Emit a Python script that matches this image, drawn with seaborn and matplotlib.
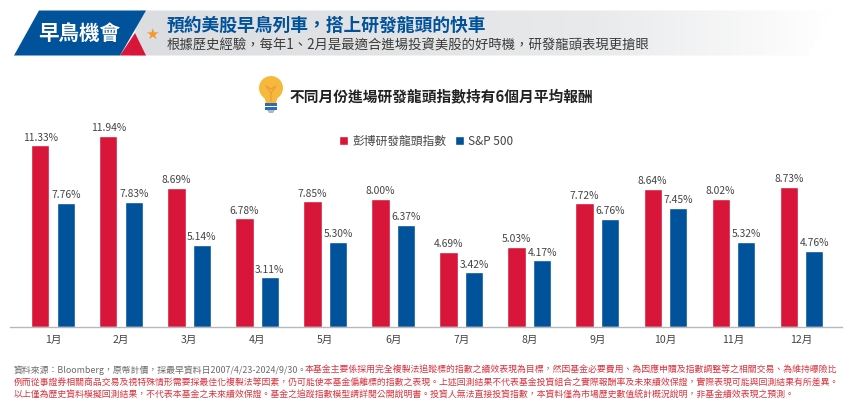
import pandas as pd
import numpy as np
import matplotlib
matplotlib.use("Agg")
import matplotlib.pyplot as plt
from matplotlib.patches import Polygon, Circle, Rectangle
import seaborn as sns

months = ["1月", "2月", "3月", "4月", "5月", "6月", "7月", "8月", "9月", "10月", "11月", "12月"]
dragon = [11.33, 11.94, 8.69, 6.78, 7.85, 8.00, 4.69, 5.03, 7.72, 8.64, 8.02, 8.73]
sp500 = [7.76, 7.83, 5.14, 3.11, 5.30, 6.37, 3.42, 4.17, 6.76, 7.45, 5.32, 4.76]
series_names = ["彭博研發龍頭指數", "S&P 500"]

W, H = 857, 412
RED = "#d7163a"
BLUE = "#00529b"

sns.set_style("white")
plt.rcParams["font.family"] = ["Noto Sans CJK TC", "DejaVu Sans"]

df = pd.DataFrame({
    "month": months * 2,
    "value": dragon + sp500,
    "series": [series_names[0]] * 12 + [series_names[1]] * 12,
})

fig = plt.figure(figsize=(W / 100, H / 100), dpi=100)

# overlay in pixel coords for the banner etc.
bg = fig.add_axes([0, 0, 1, 1], zorder=0)
bg.set_xlim(0, W)
bg.set_ylim(H, 0)
bg.axis("off")

# banner gradient
grad = np.linspace(0, 1, 256).reshape(1, -1)
cmap = matplotlib.colors.LinearSegmentedColormap.from_list(
    "band", ["#dcdde0", "#e2e3e5", "#e9eaec", "#ffffff"])
im = bg.imshow(grad, extent=(130, 832, 56, 10), cmap=cmap, aspect="auto", zorder=1)
clip = Polygon([(140, 10.5), (832, 10.5), (808, 55.5), (130, 55.5)], transform=bg.transData,
               facecolor="none", edgecolor="none")
bg.add_patch(clip)
im.set_clip_path(clip)
bg.set_xlim(0, W)
bg.set_ylim(H, 0)

bg.add_patch(Polygon([(39, 10.5), (146, 10.5), (120, 55.5), (14, 55.5)], color=BLUE, lw=0, zorder=2))
bg.add_patch(Polygon([(120, 55.5), (135, 33), (146, 55.5)], color=RED, lw=0, zorder=3))
bg.text(79.5, 33.5, "早鳥機會", color="white", fontsize=14.8, fontweight="bold",
        ha="center", va="center", zorder=4)
bg.text(152, 34, "★", color="#f39a2b", fontsize=11, ha="center", va="center",
        family=["DejaVu Sans"], zorder=4)
bg.text(167, 25.5, "預約美股早鳥列車，搭上研發龍頭的快車", color=BLUE, fontsize=12.8,
        fontweight="bold", va="center", zorder=4)
bg.text(167, 45.5, "根據歷史經驗，每年1、2月是最適合進場投資美股的好時機，研發龍頭表現更搶眼",
        color="#3a3a3a", fontsize=9.6, va="center", zorder=4)

# light bulb
bg.add_patch(Circle((271, 88), 12, color="#f6b93b", lw=0, zorder=2))
bg.add_patch(Polygon([(264, 96), (278, 96), (276, 103), (266, 103)], color="#f6b93b", lw=0, zorder=2))
bg.add_patch(Rectangle((265, 102.5), 12, 3, color="#2f6db0", lw=0, zorder=2))
bg.add_patch(Rectangle((265, 106.5), 12, 3, color="#2f6db0", lw=0, zorder=2))
bg.add_patch(Polygon([(267, 110), (275, 110), (273, 113), (269, 113)], color="#9dbcd8", lw=0, zorder=2))
bg.plot([271, 271, 266, 271, 276, 271], [101, 93, 86, 89, 86, 93], color="#ef9a3c", lw=0.8, zorder=3)

bg.text(290, 96, "不同月份進場研發龍頭指數持有6個月平均報酬", color="#222222", fontsize=10.6,
        fontweight="bold", va="center", zorder=4)

# chart area
left, right, top, base = 10, 842, 120, 327.3
ax = fig.add_axes([left / W, 1 - base / H, (right - left) / W, (base - top) / H], zorder=2)
ax.patch.set_alpha(0)
sns.barplot(data=df, x="month", y="value", hue="series", order=months, hue_order=series_names,
            palette=[RED, BLUE], width=0.75, gap=0.28, saturation=1, ax=ax)
pitch = 68.05
ax.set_xlim(-(53.0 - left) / pitch, (right - 53.0) / pitch)
ax.set_ylim(0, (base - top) / 16.05)
ax.set_xlabel("")
ax.set_ylabel("")
ax.set_yticks([])
sns.despine(ax=ax, left=True)
ax.spines["bottom"].set_color("#b8b8b8")
ax.spines["bottom"].set_linewidth(1)
ax.tick_params(axis="x", length=0, labelsize=7.6, labelcolor="#444444", pad=5.5)
for cont in ax.containers:
    ax.bar_label(cont, fmt="%.2f%%", fontsize=7.4, color="#444444", padding=2)
ax.legend(loc="upper left", bbox_to_anchor=((339 - left) / (right - left), (base - 135) / (base - top)),
          ncol=2, frameon=False, fontsize=8.5, handlelength=0.8, handleheight=0.8,
          columnspacing=0.74, handletextpad=0.3, labelcolor="#444444", borderpad=0, borderaxespad=0)

# footnote, grey part then red
GREY = "#6b6b6b"
FOOT_RED = "#d7333f"
fs = 6.4
src = "資料來源：Bloomberg，原幣計價，採最早資料日2007/4/23-2024/9/30。"
line1 = "本基金主要係採用完全複製法追蹤標的指數之績效表現為目標，然因基金必要費用、為因應申贖及指數調整等之相關交易、為維持曝險比"
line2 = "例而從事證券相關商品交易及視特殊情形需要採最佳化複製法等因素，仍可能使本基金偏離標的指數之表現。上述回測結果不代表基金投資組合之實際報酬率及未來績效保證，實際表現可能與回測結果有所差異。"
line3 = "以上僅為歷史資料模擬回測結果，不代表本基金之未來績效保證。基金之追蹤指數模型請詳閱公開說明書。投資人無法直接投資指數，本資料僅為市場歷史數值統計概況說明，非基金績效表現之預測。"
t0 = bg.text(14, 370.5, src, color=GREY, fontsize=fs, va="center", zorder=4)
fig.canvas.draw()
ext = t0.get_window_extent()
bg.text(ext.x1 - 3, 370.5, line1, color=FOOT_RED, fontsize=fs, va="center", zorder=4)
bg.text(14, 383, line2, color=FOOT_RED, fontsize=fs, va="center", zorder=4)
bg.text(14, 395, line3, color=FOOT_RED, fontsize=fs, va="center", zorder=4)

fig.savefig("out.png", dpi=100)
